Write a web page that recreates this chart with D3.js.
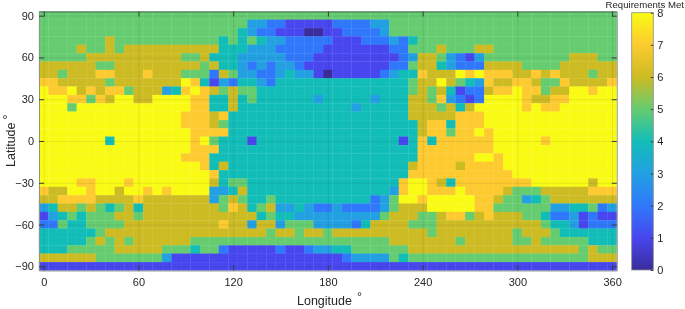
<!DOCTYPE html>
<html>
<head>
<meta charset="utf-8">
<script src="https://cdn.jsdelivr.net/npm/d3@7"></script>
<style>
	html, body { margin: 0; padding: 0; background: #fff; }
	svg { display: block; filter: blur(0.3px); }
	text { font-family: "Liberation Sans", Arial, sans-serif; fill: #262626; }
</style>
</head>
<body>
<svg id="mainplot" width="685" height="309"></svg>
<script>
// one string per latitude row (90 down to -90), one digit per longitude (0 to 360)
const requirementsMet = [
	"5555555555 5555555555 5555555555 5555555555 5555555555 5555555555 5",
	"5555555555 5555555555 5533221111 1222233555 5555555555 5555555555 5",
	"5555555555 5555555555 5432211100 1122223555 5555555555 5555555555 5",
	"5555555655 5555555554 5454332222 2111222324 5555555555 5555555555 5",
	"5555655656 6666666664 4433322222 1111111225 5565556655 5555555555 5",
	"5555566666 6666655644 4333332221 1111111123 6653213555 5555556665 5",
	"6666665566 6666666564 4323233211 1111111225 6643222666 6555566666 6",
	"6656667766 6766655526 5332234331 0111112344 7666878777 6676766656 6",
	"7766666566 6666687413 2443244444 4444444445 6686543766 7765576666 7",
	"8778676775 6663478765 6554444444 4444444445 6564122677 8775668878 8",
	"8887757688 6688887744 6454444443 4444434446 6573212888 8766778888 8",
	"8885888888 8888887744 6444444444 4443444446 6656468888 8787788888 8",
	"8888888888 8888877767 4444444444 4444444446 6666777888 8888888888 8",
	"8888888888 8888877765 4444444444 4444444444 6774777888 8888888888 8",
	"8888888888 8888887777 4444444444 4444444444 6775778788 8888888888 8",
	"8888888488 8888887854 4414444444 4444444414 7477777788 8887888888 8",
	"8888888888 8888887774 4444444444 4444444444 7777777788 8888888888 8",
	"8888888888 8888877744 4444444444 4444444444 7777778878 8888888888 8",
	"8888888888 8888888746 4444444444 4444444446 7777677778 8888888888 8",
	"8888888888 8888888874 4444444444 4444444447 7777777777 8888888888 8",
	"8888778887 8888888864 5544444444 4444444478 8764777777 7788888868 8",
	"7668878868 8787888833 4644444444 4444444378 8777877776 5556666677 7",
	"6677776666 7666666635 6544544444 4444423588 7888887765 5345666666 6",
	"3466565456 4666666665 7645633432 2322223566 6888887755 5555334452 3",
	"1345455566 5666666666 6664544333 3333335666 5567756766 6554223121 1",
	"2254455556 6666666667 6636635553 3332466665 5566666666 6665443122 2",
	"4444445666 6666666666 6666566566 5666666666 6566666666 5666544444 4",
	"4444456565 6666665555 5555555555 5555555666 6666566666 5565555544 4",
	"4445555566 6665554552 1111121123 3445555556 6666666666 6666666565 5",
	"6666665555 5553111111 1111111111 1123333545 5555555555 5555555566 6",
	"1111111111 1111111111 1111111111 1111111111 1111111111 1111111111 1"
]

const levels = [0, 1, 2, 3, 4, 5, 6, 7, 8]
const levelColors = ['#3a2c9c', '#4846ee', '#3078fb', '#22a0e2', '#12bdb8', '#65cc70', '#cdbb24', '#fdca30', '#f9fb15']
const lonTicks = [0, 60, 120, 180, 240, 300, 360]
const latTicks = [-90, -60, -30, 0, 30, 60, 90]

const cellStep = 6

// layout
const plot = { left: 39, right: 616.8, top: 11.5, bottom: 270.5 }
const bar = { left: 631.7, right: 653.3, top: 12.7, bottom: 270 }

const svg = d3.select('#mainplot')

const x = d3.scaleLinear().domain([-3, 363]).range([plot.left, plot.right])
const y = d3.scaleLinear().domain([-93, 93]).range([plot.bottom, plot.top])
const color = d3.scaleLinear().domain(levels).range(levelColors)
const barY = d3.scaleLinear().domain([0, 8]).range([bar.bottom, bar.top])

// flatten rows into cells
const cells = []
requirementsMet.forEach((row, r) => {
	row.replace(/ /g, '').split('').forEach((v, c) => {
		cells.push({ lon: c * cellStep, lat: 90 - r * cellStep, value: +v })
	})
})

svg.append('g')
	.selectAll('rect')
	.data(cells)
	.join('rect')
	.attr('x', d => x(d.lon - cellStep / 2))
	.attr('y', d => y(d.lat + cellStep / 2))
	.attr('width', d => x(d.lon + cellStep / 2) - x(d.lon - cellStep / 2))
	.attr('height', d => y(d.lat - cellStep / 2) - y(d.lat + cellStep / 2))
	.attr('fill', d => color(d.value))
	.attr('stroke', d => color(d.value))
	.attr('stroke-width', 0.3)

// grid
const gridX = svg.append('g')
	.attr('transform', `translate(0,${plot.bottom})`)
	.call(d3.axisBottom(x).tickValues(lonTicks).tickSize(plot.top - plot.bottom).tickFormat(''))
const gridY = svg.append('g')
	.attr('transform', `translate(${plot.left},0)`)
	.call(d3.axisLeft(y).tickValues(latTicks).tickSize(plot.left - plot.right).tickFormat(''))
for (let g of [gridX, gridY]) {
	g.select('.domain').remove()
	g.selectAll('.tick line').attr('stroke', '#262626').attr('stroke-opacity', 0.09)
}

// axes, ticks point inwards on all four sides
const tickLength = 5
const bottomAxis = svg.append('g')
	.attr('transform', `translate(0,${plot.bottom})`)
	.call(d3.axisBottom(x).tickValues(lonTicks).tickSize(-tickLength).tickPadding(8).tickSizeOuter(0))
const leftAxis = svg.append('g')
	.attr('transform', `translate(${plot.left},0)`)
	.call(d3.axisLeft(y).tickValues(latTicks).tickSize(-tickLength).tickPadding(5).tickSizeOuter(0))
const topAxis = svg.append('g')
	.attr('transform', `translate(0,${plot.top})`)
	.call(d3.axisTop(x).tickValues(lonTicks).tickSize(-tickLength).tickFormat('').tickSizeOuter(0))
const rightAxis = svg.append('g')
	.attr('transform', `translate(${plot.right},0)`)
	.call(d3.axisRight(y).tickValues(latTicks).tickSize(-tickLength).tickFormat('').tickSizeOuter(0))
for (let g of [bottomAxis, leftAxis, topAxis, rightAxis]) {
	g.selectAll('.tick line').attr('stroke', '#33423a')
	g.selectAll('text').attr('font-size', 11).attr('font-family', null).attr('fill', '#262626')
}
bottomAxis.select('.domain').attr('stroke', '#9a9a9a')
leftAxis.select('.domain').attr('stroke', '#8a968a')
rightAxis.select('.domain').attr('stroke', '#9a9a9a')
topAxis.select('.domain').attr('stroke', '#55665a')

// axis titles
const xTitle = svg.append('text')
	.attr('x', 297)
	.attr('y', 305)
	.attr('font-size', 12.5)
	.text('Longitude')
xTitle.append('tspan').attr('dx', 5).attr('dy', -4).text('°')

const yTitle = svg.append('text')
	.attr('transform', 'translate(14.5,167) rotate(-90)')
	.attr('font-size', 12.5)
	.text('Latitude')
yTitle.append('tspan').attr('dx', 3).attr('dy', -2.5).text('°')

// colorbar
const gradient = svg.append('defs').append('linearGradient')
	.attr('id', 'parula')
	.attr('x1', 0).attr('x2', 0).attr('y1', 1).attr('y2', 0)
gradient.selectAll('stop')
	.data(levels)
	.join('stop')
	.attr('offset', d => d / 8)
	.attr('stop-color', d => color(d))

svg.append('rect')
	.attr('x', bar.left)
	.attr('y', bar.top)
	.attr('width', bar.right - bar.left)
	.attr('height', bar.bottom - bar.top)
	.attr('fill', 'url(#parula)')
	.attr('stroke', '#8c8c8c')
	.attr('stroke-width', 0.8)

const barAxis = svg.append('g')
	.attr('transform', `translate(${bar.right},0)`)
	.call(d3.axisRight(barY).tickValues(levels).tickSize(-2.5).tickPadding(4).tickSizeOuter(0))
barAxis.select('.domain').remove()
barAxis.selectAll('.tick line').attr('stroke', '#33423a')
barAxis.selectAll('text').attr('font-size', 11).attr('font-family', null).attr('fill', '#262626')

svg.append('text')
	.attr('x', 684)
	.attr('y', 7.5)
	.attr('text-anchor', 'end')
	.attr('font-size', 9.6)
	.text('Requirements Met')
</script>
</body>
</html>
